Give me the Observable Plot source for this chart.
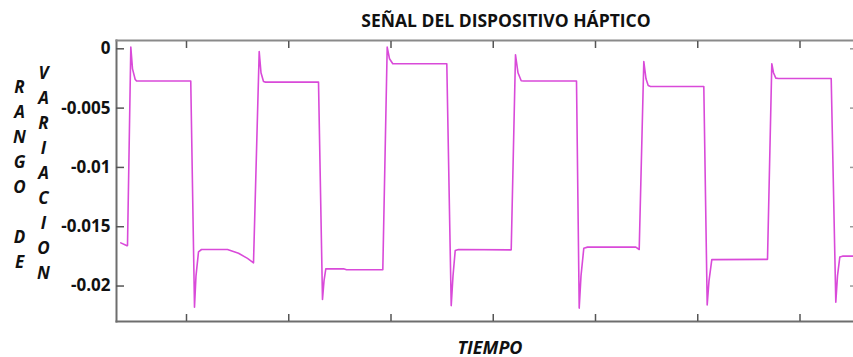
<!DOCTYPE html>
<html>
<head>
<meta charset="utf-8">
<script src="https://cdn.jsdelivr.net/npm/d3@7"></script>
<script src="https://cdn.jsdelivr.net/npm/@observablehq/plot@0.6"></script>
<style>
  html, body { margin: 0; padding: 0; background: #fff; }
  #chart { width: 853px; height: 357px; }
</style>
</head>
<body>
<div id="chart"></div>
<script>
// Time (arbitrary units, ticks unlabeled) and signal values
const time = [
  0.3575, 0.4132, 0.4230, 0.4553, 0.4719, 0.4983, 0.5110, 1.0416,
  1.0782, 1.0929, 1.1174, 1.1467, 1.4010, 1.5086, 1.5966, 1.6553,
  1.7110, 1.7286, 1.7531, 1.7726, 2.2910, 2.3300, 2.3448, 2.3623,
  2.3888, 2.5355, 2.5650, 2.9198, 2.9628, 2.9853, 3.0176, 3.0440,
  3.5457, 3.5888, 3.6064, 3.6280, 3.6601, 4.1756, 4.2176, 4.2420,
  4.2733, 4.2958, 4.8142, 4.8406, 4.8582, 4.8856, 4.9218, 5.3941,
  5.4274, 5.4724, 5.4939, 5.5154, 5.5379, 6.0592, 6.0924, 6.1100,
  6.1374, 6.1638, 6.6822, 6.7242, 6.7408, 6.7633, 6.7897, 7.3051,
  7.3501, 7.3667, 7.3892, 7.4156, 7.5232
];
const signal = [
  -0.01636, -0.01659, -0.01659, 0.00014, -0.00169, -0.00259, -0.00270, -0.00272,
  -0.02178, -0.01914, -0.01712, -0.01692, -0.01692, -0.01724, -0.01767, -0.01804,
  -0.00023, -0.00202, -0.00276, -0.00281, -0.00281, -0.02114, -0.01956, -0.01855,
  -0.01855, -0.01855, -0.01863, -0.01863, 0.00014, -0.00084, -0.00126, -0.00126,
  -0.00126, -0.02165, -0.01914, -0.01701, -0.01692, -0.01695, -0.00051, -0.00202,
  -0.00270, -0.00272, -0.00272, -0.02186, -0.01914, -0.01681, -0.01672, -0.01672,
  -0.01692, -0.00107, -0.00253, -0.00310, -0.00318, -0.00318, -0.02159, -0.01956,
  -0.01777, -0.01777, -0.01775, -0.00126, -0.00202, -0.00247, -0.00250, -0.00250,
  -0.02136, -0.01914, -0.01756, -0.01748, -0.01748
];
const yTicks = [0, -0.005, -0.01, -0.015, -0.02];
const yTickLabels = ["0", "-0.005", "-0.01", "-0.015", "-0.02"];
const xTicks = [1, 2, 3, 4, 5, 6, 7];
const titleText = "SEÑAL DEL DISPOSITIVO HÁPTICO";
const xLabelText = "TIEMPO";
const yLabelCol1 = ["R", "A", "N", "G", "O", "", "D", "E"];
const yLabelCol2 = ["V", "A", "R", "I", "A", "C", "I", "O", "N"];

const data = time.map((t, i) => ({t, v: signal[i]}));
const FONT = "'Open Sans', 'DejaVu Sans', sans-serif";

const chart = Plot.plot({
  width: 853,
  height: 357,
  marginLeft: 116,
  marginRight: 0,
  marginTop: 40,
  marginBottom: 36,
  style: {background: "#fff", fontFamily: FONT, color: "#111"},
  x: {domain: [0.3154, 7.5232], label: null},
  y: {domain: [-0.02299, 0.0007], label: null},
  marks: [
    Plot.frame({anchor: "left", stroke: "#6e6e6e", strokeWidth: 2}),
    Plot.frame({anchor: "top", stroke: "#8a8a8a", strokeWidth: 2}),
    Plot.frame({anchor: "bottom", stroke: "#6e6e6e", strokeWidth: 2}),
    Plot.axisY(yTicks, {anchor: "left", tickSize: -8, tickFormat: () => "", stroke: "#555", strokeWidth: 1.5}),
    Plot.axisY(yTicks, {anchor: "right", tickSize: -4, tickFormat: () => "", stroke: "#999", strokeWidth: 1.5}),
    Plot.axisY(yTicks, {anchor: "left", tickSize: 0, tickPadding: 6,
      tickFormat: d => yTickLabels[yTicks.indexOf(d)],
      fontSize: 17, fontWeight: "bold", fill: "#111"}),
    Plot.axisX(xTicks, {anchor: "bottom", tickSize: -7, tickFormat: () => "", stroke: "#555", strokeWidth: 1.5}),
    Plot.axisX(xTicks, {anchor: "top", tickSize: -7, tickFormat: () => "", stroke: "#555", strokeWidth: 1.5}),
    Plot.line(data, {x: "t", y: "v", stroke: "#d94ad9", strokeWidth: 1.6, strokeLinejoin: "round"}),
    Plot.text([titleText], {frameAnchor: "top", lineAnchor: "bottom", dx: 21, dy: -14,
      fontSize: 17.5, fontWeight: "bold", fill: "#111"}),
    Plot.text([xLabelText], {frameAnchor: "bottom", lineAnchor: "bottom", dx: 5, dy: 32,
      fontSize: 18, fontWeight: "bold", fontStyle: "italic", fill: "#111"}),
    Plot.text([yLabelCol1.join("\n")], {frameAnchor: "top-left", lineAnchor: "top", textAnchor: "middle",
      dx: -97, dy: 35, lineHeight: 25 / 17,
      fontSize: 17, fontWeight: "bold", fontStyle: "italic", fill: "#111"}),
    Plot.text([yLabelCol2.join("\n")], {frameAnchor: "top-left", lineAnchor: "top", textAnchor: "middle",
      dx: -73, dy: 20.6, lineHeight: 25 / 17,
      fontSize: 17, fontWeight: "bold", fontStyle: "italic", fill: "#111"})
  ]
});
document.getElementById("chart").appendChild(chart);
</script>
</body>
</html>
